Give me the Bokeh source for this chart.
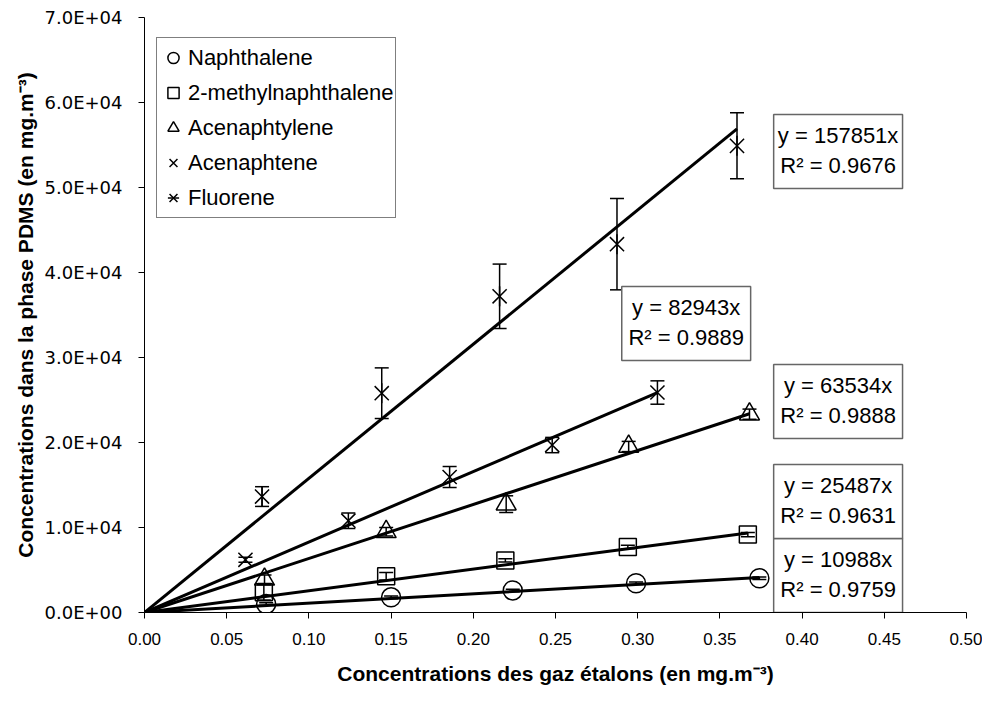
import math
from bokeh.plotting import figure
from bokeh.models import (ColumnDataSource, FixedTicker, NumeralTickFormatter, CustomJSTickFormatter,
                          Whisker, TeeHead, Legend, LegendItem, Range1d)
from bokeh.embed import file_html
from bokeh.resources import INLINE
from bokeh.core.properties import value

# ---------------- data ----------------
series_names = ["Naphthalene", "2-methylnaphthalene", "Acenaphtylene", "Acenaphtene", "Fluorene"]

naph_x = [0.074, 0.150, 0.224, 0.299, 0.374]
naph_y = [990, 1780, 2600, 3440, 4030]
naph_err = [150, 150, 150, 150, 150]

methyl_x = [0.0726, 0.147, 0.2195, 0.294, 0.367]
methyl_y = [2370, 4270, 6130, 7710, 9170]
methyl_err = [900, 450, 200, 200, 250]

acy_x = [0.073, 0.147, 0.220, 0.2945, 0.368]
acy_y = [3900, 9500, 12750, 19530, 23330]
acy_err = [500, 500, 980, 600, 600]

ace_x = [0.0614, 0.124, 0.1856, 0.248, 0.312]
ace_y = [6200, 10800, 15940, 19700, 25880]
ace_err = [300, 920, 1235, 900, 1375]

flu_x = [0.0715, 0.1443, 0.216, 0.2874, 0.3604]
flu_y = [13640, 25800, 37200, 43330, 54900]
flu_err = [1160, 2980, 3790, 5370, 3880]

slopes = [10988, 25487, 63534, 82943, 157851]
r2_values = ["0.9759", "0.9631", "0.9888", "0.9889", "0.9676"]

x_ticks = [0.0, 0.05, 0.10, 0.15, 0.20, 0.25, 0.30, 0.35, 0.40, 0.45, 0.50]
y_ticks = [0, 10000, 20000, 30000, 40000, 50000, 60000, 70000]

# equation box layout (data coords), order = series order
box_left = [0.3827, 0.3827, 0.3827, 0.2903, 0.3827]
box_top = [8710, 17410, 29180, 38350, 58590]
BOX_W = 0.0784
BOX_H = 8710

FONT = "Liberation Sans"

p = figure(width=982, height=691, output_backend="svg", toolbar_location=None,
           x_range=Range1d(0, 0.5), y_range=Range1d(0, 70000),
           min_border_left=144, min_border_right=16, min_border_top=17, min_border_bottom=79)
p.outline_line_color = None
p.xgrid.grid_line_color = None
p.ygrid.grid_line_color = None
p.background_fill_color = "white"

# axes
p.xaxis.ticker = FixedTicker(ticks=x_ticks)
p.xaxis.formatter = NumeralTickFormatter(format="0.00")
p.yaxis.ticker = FixedTicker(ticks=y_ticks)
p.yaxis.formatter = CustomJSTickFormatter(code="""
const s = tick.toExponential(1).split('e');
const e = parseInt(s[1]);
const sign = e < 0 ? '-' : '+';
return s[0] + 'E' + sign + String(Math.abs(e)).padStart(2, '0');
""")
for ax in (p.xaxis, p.yaxis):
    ax.axis_line_color = "black"
    ax.axis_line_width = 1
    ax.major_tick_line_color = "black"
    ax.major_tick_out = 6
    ax.major_tick_in = 0
    ax.minor_tick_line_color = None
    ax.major_label_text_color = "black"
    ax.axis_label_text_font = FONT
    ax.axis_label_text_font_style = "bold"
    ax.axis_label_text_font_size = "21px"
    ax.axis_label_text_color = "black"
p.xaxis.major_label_text_font = FONT
p.xaxis.major_label_text_font_size = "17px"
p.yaxis.major_label_text_font = "DejaVu Sans"
p.yaxis.major_label_text_font_size = "18px"
p.xaxis.axis_label = "Concentrations des gaz étalons (en mg.m⁻³)"
p.yaxis.axis_label = "Concentrations dans la phase PDMS (en mg.m⁻³)"
p.xaxis.major_label_standoff = 14
p.yaxis.major_label_standoff = 16
p.xaxis.axis_label_standoff = 14
p.yaxis.axis_label_standoff = 5

all_x = [naph_x, methyl_x, acy_x, ace_x, flu_x]
all_y = [naph_y, methyl_y, acy_y, ace_y, flu_y]
all_err = [naph_err, methyl_err, acy_err, ace_err, flu_err]

# trend lines through origin
for xs, k in zip(all_x, slopes):
    xmax = max(xs)
    p.line([0, xmax], [0, k * xmax], line_color="black", line_width=3)

# error bars
for xs, ys, es in zip(all_x, all_y, all_err):
    src = ColumnDataSource(dict(x=xs, upper=[a + b for a, b in zip(ys, es)],
                                lower=[a - b for a, b in zip(ys, es)]))
    w = Whisker(source=src, base="x", upper="upper", lower="lower",
                line_color="black", line_width=1.5,
                upper_head=TeeHead(size=14, line_color="black", line_width=1.5),
                lower_head=TeeHead(size=14, line_color="black", line_width=1.5))
    p.add_layout(w)

mk = dict(fill_color=None, line_color="black", line_width=1.5)
r_naph = p.scatter(naph_x, naph_y, marker="circle", size=19, **mk)
r_meth = p.scatter(methyl_x, methyl_y, marker="square", size=17, **mk)
r_acy = p.scatter(acy_x, acy_y, marker="triangle", size=20, **mk)
r_ace = p.scatter(ace_x, ace_y, marker="x", size=20, **mk)
r_flu1 = p.scatter(flu_x, flu_y, marker="x", size=20, **mk)
r_flu2 = p.scatter(flu_x, flu_y, marker="dash", size=20, angle=math.pi / 2, **mk)

# equation boxes
for i in range(5):
    l = box_left[i]
    t = box_top[i]
    p.quad(left=[l], right=[l + BOX_W], top=[t], bottom=[max(t - BOX_H, 0)],
           fill_color="white", line_color="#666666", line_width=1.5)
    cx = l + BOX_W / 2
    p.text(x=[cx, cx], y=[t - 2470, t - 6000],
           text=[f"y = {slopes[i]}x", f"R² = {r2_values[i]}"],
           text_align="center", text_baseline="middle",
           text_font=value(FONT), text_font_size="22px", text_color="black")

legend = Legend(items=[
    LegendItem(label=series_names[0], renderers=[r_naph]),
    LegendItem(label=series_names[1], renderers=[r_meth]),
    LegendItem(label=series_names[2], renderers=[r_acy]),
    LegendItem(label=series_names[3], renderers=[r_ace]),
    LegendItem(label=series_names[4], renderers=[r_flu1, r_flu2]),
], location=(12, 394))
legend.border_line_color = "black"
legend.border_line_width = 1
legend.background_fill_color = "white"
legend.background_fill_alpha = 1
legend.label_text_font = FONT
legend.label_text_font_size = "22px"
legend.label_text_color = "black"
legend.glyph_width = 28
legend.glyph_height = 35
legend.label_standoff = 1
legend.spacing = 0
legend.padding = 2
legend.label_height = 35
legend.margin = 0
p.add_layout(legend)

open("out.html", "w").write(file_html(p, INLINE))
